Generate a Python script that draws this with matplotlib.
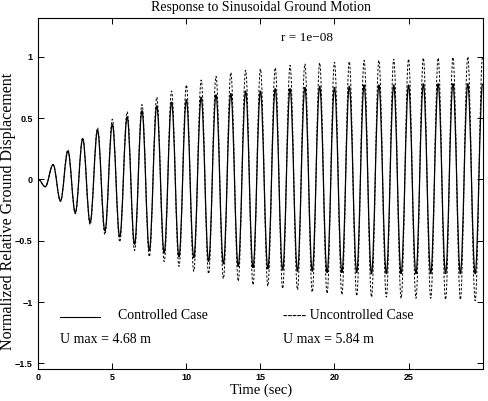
import matplotlib.pyplot as plt
import numpy as np
from matplotlib.path import Path
from matplotlib.patches import PathPatch

# Extrema (1 Hz response, peaks at whole seconds)
t_start = 0.0
t_first_dip = 0.47
peak_times = np.arange(1, 31)            # 1 ... 30 s
trough_times = np.arange(1.5, 30, 1.0)  # 1.5 ... 29.5 s

ctrl_peaks = [0.12, 0.23, 0.33, 0.40, 0.45, 0.51, 0.56, 0.60, 0.63, 0.65,
              0.67, 0.69, 0.70, 0.72, 0.72, 0.74, 0.74, 0.75, 0.76, 0.75,
              0.76, 0.77, 0.77, 0.77, 0.77, 0.78, 0.78, 0.78, 0.78, 0.78]
ctrl_troughs = [-0.06, -0.175, -0.27, -0.35, -0.42, -0.47, -0.53, -0.58, -0.60, -0.63,
                -0.64, -0.67, -0.69, -0.71, -0.72, -0.73, -0.74, -0.75, -0.75, -0.76,
                -0.76, -0.76, -0.77, -0.77, -0.77, -0.77, -0.77, -0.77, -0.77, -0.77]

unc_peaks = [0.12, 0.24, 0.34, 0.42, 0.49, 0.55, 0.61, 0.67, 0.72, 0.77,
             0.81, 0.84, 0.87, 0.89, 0.90, 0.91, 0.93, 0.94, 0.95, 0.955,
             0.96, 0.97, 0.97, 0.98, 0.98, 0.99, 0.99, 0.995, 1.0, 1.0]
unc_troughs = [-0.06, -0.18, -0.28, -0.37, -0.45, -0.51, -0.58, -0.63, -0.67, -0.71,
               -0.75, -0.77, -0.81, -0.83, -0.86, -0.87, -0.89, -0.90, -0.92, -0.93,
               -0.94, -0.95, -0.96, -0.96, -0.97, -0.97, -0.97, -0.98, -0.98, -0.99]

x_ticks = [0, 5, 10, 15, 20, 25]
y_ticks = [-1.5, -1, -0.5, 0, 0.5, 1]


def extrema_path(peaks, troughs):
    # alternate trough/peak, join neighbours with cubic bezier (flat at extrema)
    ts = [t_start, t_first_dip]
    ys = [0.0, troughs[0]]
    for i in range(len(peaks)):
        ts.append(peak_times[i]); ys.append(peaks[i])
        if i + 1 < len(troughs):
            ts.append(trough_times[i]); ys.append(troughs[i + 1])
    verts = [(ts[0], ys[0])]
    codes = [Path.MOVETO]
    a = 1 - 2 / np.pi
    for k in range(1, len(ts)):
        dt = ts[k] - ts[k - 1]
        verts += [(ts[k - 1] + a * dt, ys[k - 1]), (ts[k] - a * dt, ys[k]), (ts[k], ys[k])]
        codes += [Path.CURVE4] * 3
    return Path(verts, codes)


plt.rcParams['font.family'] = ['Liberation Serif', 'DejaVu Serif']
fig = plt.figure(figsize=(4.89, 4.01), dpi=100)
ax = fig.add_axes([0.0783, 0.0798, 0.9101, 0.8746])

ax.add_patch(PathPatch(extrema_path(unc_peaks, unc_troughs), fill=False,
                       edgecolor='black', lw=0.7, linestyle=(0, (2.5, 1.8))))
ax.add_patch(PathPatch(extrema_path(ctrl_peaks, ctrl_troughs), fill=False,
                       edgecolor='black', lw=0.9))

ax.set_xlim(0, 30.05)
ax.set_ylim(-1.546, 1.313)
ax.set_xticks(x_ticks)
ax.set_yticks(y_ticks)
ax.set_xticklabels([str(v) for v in x_ticks])
ax.set_yticklabels(['\u22121.5', '\u22121', '\u22120.5', '0', '0.5', '1'])
ax.tick_params(direction='in', length=4, width=0.7, top=True, right=True)
ax.tick_params(axis='x', pad=3)
ax.tick_params(axis='y', pad=4)
for lab in ax.get_xticklabels() + ax.get_yticklabels():
    lab.set_family('Liberation Sans')
    lab.set_fontsize(6.5)
    lab.set_weight('bold')
for s in ax.spines.values():
    s.set_linewidth(0.8)

ax.set_title('Response to Sinusoidal Ground Motion', fontsize=10, pad=5)
ax.set_xlabel('Time (sec)', fontsize=10.5, va='center')
ax.xaxis.set_label_coords(0.5, -0.06)
ax.set_ylabel('Normalized Relative Ground Displacement', fontsize=11.5, va='center', ha='center')
ax.yaxis.set_label_coords(-0.068, 0.45)

# annotations inside the axes, MATLAB style
ax.text(0.604, 0.943, 'r = 1e\u221208', transform=ax.transAxes, ha='center', va='center', fontsize=9.5)
ax.plot([0.049, 0.139], [0.149, 0.149], transform=ax.transAxes, color='black', lw=0.8)
ax.text(0.179, 0.152, 'Controlled Case', transform=ax.transAxes, va='center', fontsize=10)
ax.text(0.55, 0.152, '----- Uncontrolled Case', transform=ax.transAxes, va='center', fontsize=10)
ax.text(0.049, 0.0855, 'U max = 4.68 m', transform=ax.transAxes, va='center', fontsize=10)
ax.text(0.55, 0.0855, 'U max = 5.84 m', transform=ax.transAxes, va='center', fontsize=10)

fig.savefig('out.png', dpi=100)
